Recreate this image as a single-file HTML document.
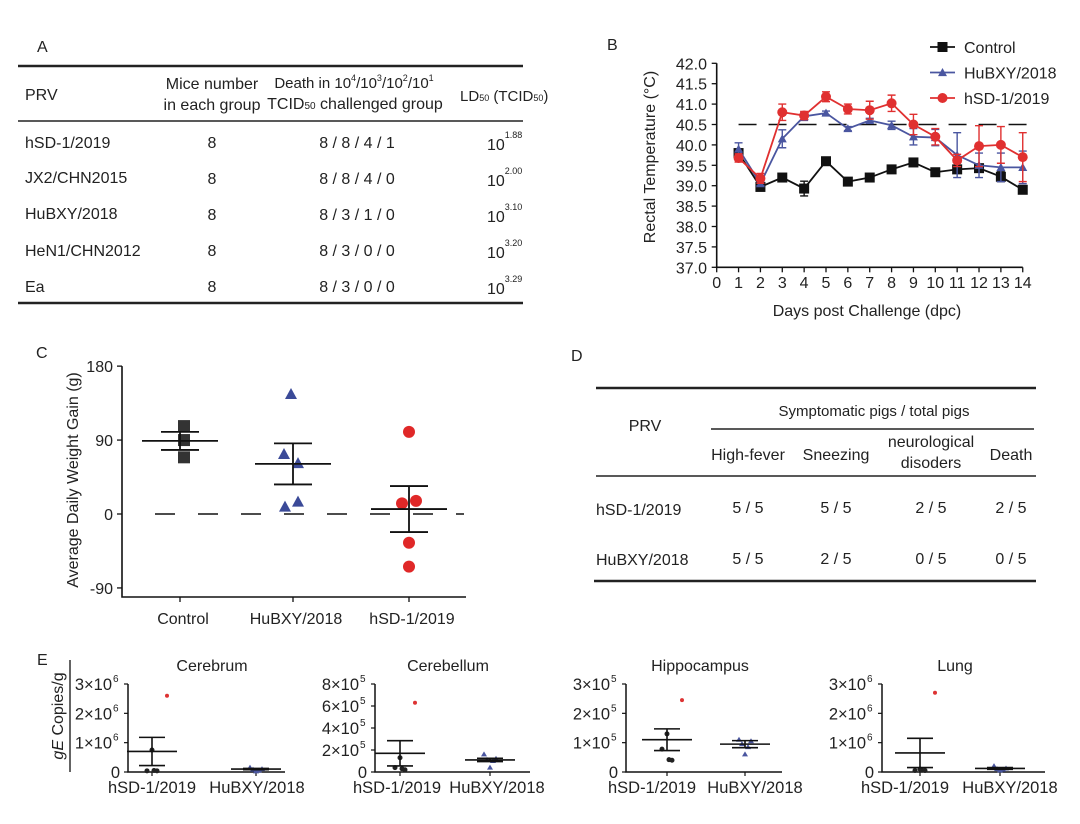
<!DOCTYPE html>
<html><head><meta charset="utf-8"><style>
html,body{margin:0;padding:0;background:#fff}
svg{display:block;font-family:"Liberation Sans",Arial,sans-serif}
</style></head><body>
<svg id="fig" width="1080" height="824" viewBox="0 0 1080 824" xmlns="http://www.w3.org/2000/svg">
<!-- Panel A -->
<g font-size="16" fill="#222">
<text x="37" y="52" font-size="16">A</text>
<line x1="18" y1="66" x2="523" y2="66" stroke="#222" stroke-width="2.5"/>
<line x1="18" y1="121" x2="523" y2="121" stroke="#222" stroke-width="1.5"/>
<line x1="18" y1="303" x2="523" y2="303" stroke="#222" stroke-width="2.5"/>
<text x="25" y="100">PRV</text>
<text x="212" y="89" text-anchor="middle">Mice number</text>
<text x="212" y="110" text-anchor="middle">in each group</text>
<text x="354" y="88" text-anchor="middle" font-size="15">Death in 10<tspan font-size="9" dy="-7">4</tspan><tspan dy="7">/10</tspan><tspan font-size="9" dy="-7">3</tspan><tspan dy="7">/10</tspan><tspan font-size="9" dy="-7">2</tspan><tspan dy="7">/10</tspan><tspan font-size="9" dy="-7">1</tspan></text>
<text x="355" y="109" text-anchor="middle">TCID<tspan font-size="10">50</tspan> challenged group</text>
<text x="460" y="101" font-size="15">LD<tspan font-size="9">50</tspan> (TCID<tspan font-size="9">50</tspan>)</text>
<g><text x="25" y="148">hSD-1/2019</text><text x="212" y="148" text-anchor="middle">8</text><text x="357" y="148" text-anchor="middle">8 / 8 / 4 / 1</text><text x="487" y="150">10<tspan font-size="9" dy="-12">1.88</tspan></text></g>
<g><text x="25" y="183">JX2/CHN2015</text><text x="212" y="184" text-anchor="middle">8</text><text x="357" y="184" text-anchor="middle">8 / 8 / 4 / 0</text><text x="487" y="186">10<tspan font-size="9" dy="-12">2.00</tspan></text></g>
<g><text x="25" y="219">HuBXY/2018</text><text x="212" y="220" text-anchor="middle">8</text><text x="357" y="220" text-anchor="middle">8 / 3 / 1 / 0</text><text x="487" y="222">10<tspan font-size="9" dy="-12">3.10</tspan></text></g>
<g><text x="25" y="256">HeN1/CHN2012</text><text x="212" y="256" text-anchor="middle">8</text><text x="357" y="256" text-anchor="middle">8 / 3 / 0 / 0</text><text x="487" y="258">10<tspan font-size="9" dy="-12">3.20</tspan></text></g>
<g><text x="25" y="292">Ea</text><text x="212" y="292" text-anchor="middle">8</text><text x="357" y="292" text-anchor="middle">8 / 3 / 0 / 0</text><text x="487" y="294">10<tspan font-size="9" dy="-12">3.29</tspan></text></g>
</g>
<!-- Panel D -->
<g font-size="16" fill="#222">
<text x="571" y="361">D</text>
<line x1="596" y1="388" x2="1036" y2="388" stroke="#222" stroke-width="2.5"/>
<line x1="711" y1="429" x2="1034" y2="429" stroke="#222" stroke-width="1.5"/>
<line x1="596" y1="476" x2="1036" y2="476" stroke="#222" stroke-width="1.5"/>
<line x1="594" y1="581" x2="1036" y2="581" stroke="#222" stroke-width="2.5"/>
<text x="874" y="416" text-anchor="middle" font-size="15">Symptomatic pigs / total pigs</text>
<text x="645" y="431" text-anchor="middle">PRV</text>
<text x="748" y="460" text-anchor="middle">High-fever</text>
<text x="836" y="460" text-anchor="middle">Sneezing</text>
<text x="931" y="447" text-anchor="middle">neurological</text>
<text x="931" y="468" text-anchor="middle">disoders</text>
<text x="1011" y="460" text-anchor="middle">Death</text>
<g><text x="596" y="515">hSD-1/2019</text><text x="748" y="513" text-anchor="middle">5 / 5</text><text x="836" y="513" text-anchor="middle">5 / 5</text><text x="931" y="513" text-anchor="middle">2 / 5</text><text x="1011" y="513" text-anchor="middle">2 / 5</text></g>
<g><text x="596" y="565">HuBXY/2018</text><text x="748" y="564" text-anchor="middle">5 / 5</text><text x="836" y="564" text-anchor="middle">2 / 5</text><text x="931" y="564" text-anchor="middle">0 / 5</text><text x="1011" y="564" text-anchor="middle">0 / 5</text></g>
</g>
<g id="gB"></g>
<g id="gC"></g>
<g id="gE"></g>
</svg>
<script>
// ---- Panel B data ----
const bDays=[1,2,3,4,5,6,7,8,9,10,11,12,13,14];
const bControl=[39.8,38.97,39.2,38.93,39.6,39.1,39.2,39.4,39.57,39.33,39.4,39.43,39.22,38.9];
const bControlErr=[0.05,0.05,0.04,0.18,0.05,0.04,0.04,0.05,0.05,0.1,0.06,0.08,0.12,0.05];
const bHuBXY=[39.9,39.05,40.15,40.7,40.78,40.4,40.6,40.48,40.2,40.18,39.75,39.5,39.45,39.45];
const bHuBXYErr=[0.15,0.05,0.22,0.1,0.05,0.05,0.05,0.1,0.2,0.2,0.55,0.3,0.35,0.4];
const bHSD=[39.68,39.18,40.8,40.72,41.18,40.88,40.85,41.02,40.5,40.2,39.62,39.97,40.0,39.7];
const bHSDErr=[0.1,0.12,0.2,0.1,0.12,0.12,0.22,0.2,0.25,0.2,0.15,0.5,0.45,0.6];
const bYTicks=[37.0,37.5,38.0,38.5,39.0,39.5,40.0,40.5,41.0,41.5,42.0];
const bXTicks=[0,1,2,3,4,5,6,7,8,9,10,11,12,13,14];
// ---- Panel C data ----
const cGroups=["Control","HuBXY/2018","hSD-1/2019"];
const cControl=[107,90,69];
const cHuBXY=[146,73,62,15,9];
const cHSD=[100,13,16,-35,-64];
const cMeans=[89,61,6];
const cSEM=[11,25,28];
const cYTicks=[-90,0,90,180];
// ---- Panel E data ----
const eTitles=["Cerebrum","Cerebellum","Hippocampus","Lung"];
const eMax=[3e6,8e5,3e5,3e6];
const eHSDPts=[[2.6e6,0.75e6,0.04e6,0.04e6,0.05e6],[6.3e5,1.3e5,0.4e5,0.2e5,0.3e5],[2.45e5,1.3e5,0.78e5,0.4e5,0.42e5],[2.7e6,0.1e6,0.05e6,0.05e6,0.06e6]];
const eHSDMean=[0.7e6,1.7e5,1.1e5,0.65e6];
const eHSDSem=[0.48e6,1.15e5,0.37e5,0.5e6];
const eHuPts=[[0.15e6,0.1e6,0.08e6,0.05e6,0.02e6],[1.6e5,1.2e5,1.1e5,1.0e5,0.4e5],[1.1e5,1.05e5,0.95e5,0.85e5,0.6e5],[0.2e6,0.12e6,0.1e6,0.08e6,0.05e6]];
const eHuMean=[0.1e6,1.1e5,0.95e5,0.12e6];
const eHuSem=[0.02e6,0.15e5,0.12e5,0.03e6];
const eTickVals=[[0,1e6,2e6,3e6],[0,2e5,4e5,6e5,8e5],[0,1e5,2e5,3e5],[0,1e6,2e6,3e6]];
const eTickMant=[["0","1","2","3"],["0","2","4","6","8"],["0","1","2","3"],["0","1","2","3"]];
const eTickExp=["6","5","5","6"];

const NS="http://www.w3.org/2000/svg";
function mk(parent,tag,attrs,text){const e=document.createElementNS(NS,tag);for(const k in attrs)e.setAttribute(k,attrs[k]);if(text!==undefined)e.textContent=text;parent.appendChild(e);return e;}

// ===== Panel B =====
(function(){
const g=document.getElementById('gB');
const X=d=>716.7+d*21.86, Y=v=>267.3-(v-37)*40.8;
const lbl=mk(g,'text',{x:607,y:50,'font-size':16,fill:'#222'},'B');


const ax=mk(g,'path',{d:`M${X(0)} ${Y(42)}V${Y(37)}H${X(14)}`,stroke:'#111','stroke-width':1.6,fill:'none'});


bYTicks.forEach(v=>{mk(g,'line',{x1:X(0)-5,x2:X(0),y1:Y(v),y2:Y(v),stroke:'#111','stroke-width':1.3});
const t=mk(g,'text',{x:707,y:Y(v)+6,'text-anchor':'end','font-size':16,fill:'#222'},v.toFixed(1));

});
bXTicks.forEach(v=>{mk(g,'line',{x1:X(v),x2:X(v),y1:Y(37),y2:Y(37)+5,stroke:'#111','stroke-width':1.3});
const t=mk(g,'text',{x:X(v),y:288,'text-anchor':'middle','font-size':16,fill:'#222'},String(v));

});
const yt=mk(g,'text',{transform:`translate(655,157) rotate(-90)`,'text-anchor':'middle','font-size':16,fill:'#222'},'Rectal Temperature (°C)');


const xt=mk(g,'text',{x:867,y:316,'text-anchor':'middle','font-size':16,fill:'#222'},'Days post Challenge (dpc)');


const dl=mk(g,'line',{x1:X(1),x2:X(14.2),y1:Y(40.5),y2:Y(40.5),stroke:'#111','stroke-width':1.6,'stroke-dasharray':'18,12'});


const series=[{n:'control',v:bControl,e:bControlErr,c:'#111',m:'sq'},{n:'hubxy',v:bHuBXY,e:bHuBXYErr,c:'#4a56a0',m:'tri'},{n:'hsd',v:bHSD,e:bHSDErr,c:'#e03030',m:'circ'}];
function marker(gg,m,x,y,c,s){if(m==='sq')return mk(gg,'rect',{x:x-s,y:y-s,width:2*s,height:2*s,fill:c});
if(m==='tri')return mk(gg,'path',{d:`M${x} ${y-s}L${x+s} ${y+s*0.8}L${x-s} ${y+s*0.8}Z`,fill:c});
return mk(gg,'circle',{cx:x,cy:y,r:s,fill:c});}
series.forEach(s=>{const sg=mk(g,'g',{});


mk(sg,'polyline',{points:bDays.map((d,i)=>X(d)+','+Y(s.v[i])).join(' '),fill:'none',stroke:s.c,'stroke-width':1.8});
bDays.forEach((d,i)=>{const x=X(d),y1=Y(s.v[i]+s.e[i]),y2=Y(s.v[i]-s.e[i]);
mk(sg,'path',{d:`M${x} ${y1}V${y2}M${x-4} ${y1}H${x+4}M${x-4} ${y2}H${x+4}`,stroke:s.c,'stroke-width':1.4,fill:'none'});
const mm=marker(sg,s.m,x,Y(s.v[i]),s.c,s.m==='tri'?4.5:5);

});
});
const names=['Control','HuBXY/2018','hSD-1/2019'];
series.forEach((s,i)=>{const lg=mk(g,'g',{});


const y=47+i*25.5;mk(lg,'line',{x1:930,x2:955,y1:y,y2:y,stroke:s.c,'stroke-width':1.8});
marker(lg,s.m,942.5,y,s.c,s.m==='tri'?4.5:5);
mk(lg,'text',{x:964,y:y+6,'font-size':16,fill:'#222'},names[i]);});
})();

// ===== Panel C =====
(function(){
const g=document.getElementById('gC');
const Y=v=>514-v*0.8215, CX=[180,293,409];
const lbl=mk(g,'text',{x:36,y:358,'font-size':16,fill:'#222'},'C');


const ax=mk(g,'path',{d:`M122 ${Y(180)}V597H466`,stroke:'#111','stroke-width':1.6,fill:'none'});


cYTicks.forEach(v=>{mk(g,'line',{x1:117,x2:122,y1:Y(v),y2:Y(v),stroke:'#111','stroke-width':1.3});
const t=mk(g,'text',{x:113,y:Y(v)+6,'text-anchor':'end','font-size':16,fill:'#222'},String(v));

});
CX.forEach((x,i)=>{mk(g,'line',{x1:x,x2:x,y1:597,y2:602,stroke:'#111','stroke-width':1.3});
const t=mk(g,'text',{x:x+3,y:624,'text-anchor':'middle','font-size':16,fill:'#222'},cGroups[i]);

});
const yt=mk(g,'text',{transform:'translate(78,480) rotate(-90)','text-anchor':'middle','font-size':16,fill:'#222'},'Average Daily Weight Gain (g)');


const dl=mk(g,'line',{x1:155,x2:464,y1:Y(0),y2:Y(0),stroke:'#111','stroke-width':1.6,'stroke-dasharray':'20,23'});


const sets=[{p:cControl,c:'#333',m:'sq',off:[4,4,4]},{p:cHuBXY,c:'#3b4a98',m:'tri',off:[-2,-9,5,5,-8]},{p:cHSD,c:'#e02828',m:'circ',off:[0,-7,7,0,0]}];
sets.forEach((s,i)=>{const sg=mk(g,'g',{});


s.p.forEach((v,j)=>{const x=CX[i]+s.off[j],y=Y(v);let mm;
if(s.m==='sq')mm=mk(sg,'rect',{x:x-6,y:y-6,width:12,height:12,fill:s.c});
else if(s.m==='tri')mm=mk(sg,'path',{d:`M${x} ${y-6}L${x+6} ${y+5}L${x-6} ${y+5}Z`,fill:s.c});
else mm=mk(sg,'circle',{cx:x,cy:y,r:6,fill:s.c});

});
const m=cMeans[i],e=cSEM[i],x=CX[i];
mk(sg,'path',{d:`M${x-38} ${Y(m)}H${x+38}M${x} ${Y(m+e)}V${Y(m-e)}M${x-19} ${Y(m+e)}H${x+19}M${x-19} ${Y(m-e)}H${x+19}`,stroke:'#111','stroke-width':1.8,fill:'none'});
});
})();

// ===== Panel E =====
(function(){
const g=document.getElementById('gE');
const lbl=mk(g,'text',{x:37,y:665,'font-size':16,fill:'#222'},'E');


const yt=mk(g,'text',{transform:'translate(63,716) rotate(-90)','text-anchor':'middle','font-size':16,fill:'#222'});


mk(yt,'tspan',{'font-style':'italic'},'gE');mk(yt,'tspan',{},' Copies/g');
mk(g,'line',{x1:70,x2:70,y1:660,y2:772,stroke:'#111','stroke-width':1.3});
const AX=[128,375,626,882],XE=[285,530,782,1045],C1=[152,400,667,920],C2=[256,490,745,1000],TT=[212,448,700,955];
const L1=[152,397,652,905],L2=[257,497,755,1010];
eTitles.forEach((tt,k)=>{const pg=mk(g,'g',{});


const Y=v=>772-v/eMax[k]*88;
const t=mk(pg,'text',{x:TT[k],y:671,'text-anchor':'middle','font-size':16,fill:'#222'},tt);


mk(pg,'path',{d:`M${AX[k]} ${Y(eMax[k])}V772H${XE[k]}`,stroke:'#111','stroke-width':1.5,fill:'none'});
eTickVals[k].forEach((v,j)=>{mk(pg,'line',{x1:AX[k]-4,x2:AX[k],y1:Y(v),y2:Y(v),stroke:'#111','stroke-width':1.2});
const tx=mk(pg,'text',{x:AX[k]-8,y:Y(v)+6,'text-anchor':'end','font-size':16.5,fill:'#222'});


if(v===0){tx.textContent='0';}else{tx.setAttribute('x',AX[k]-16);tx.textContent=eTickMant[k][j]+'×10';
mk(pg,'text',{x:AX[k]-15,y:Y(v)-2,'font-size':10,fill:'#222'},eTickExp[k]);}});
[C1[k],C2[k]].forEach((x,i)=>{mk(pg,'line',{x1:x,x2:x,y1:772,y2:776,stroke:'#111','stroke-width':1.2});
const l=mk(pg,'text',{x:i?L2[k]:L1[k],y:793,'text-anchor':'middle','font-size':16.5,fill:'#222'},i?'HuBXY/2018':'hSD-1/2019');

});
const hs=eHSDPts[k];hs.forEach((v,j)=>{const offs=[0,0,-5,5,2];const c=j===0?'#d33':'#222';
const p=mk(pg,'circle',{cx:C1[k]+offs[j]+(j===0?15:0),cy:Y(v),r:j===0?2:2.5,fill:c});

});
eHuPts[k].forEach((v,j)=>{const offs=[-6,6,-3,3,0];
const p=mk(pg,'path',{d:`M${C2[k]+offs[j]} ${Y(v)-3}l3 5h-6z`,fill:'#4a56a0'});

});
[[C1[k],eHSDMean[k],eHSDSem[k]],[C2[k],eHuMean[k],eHuSem[k]]].forEach(([x,m,e])=>{
mk(pg,'path',{d:`M${x-25} ${Y(m)}H${x+25}M${x} ${Y(m+e)}V${Y(Math.max(m-e,0))}M${x-13} ${Y(m+e)}H${x+13}M${x-13} ${Y(Math.max(m-e,0))}H${x+13}`,stroke:'#111','stroke-width':1.6,fill:'none'});});
});
})();
</script>
</body></html>
